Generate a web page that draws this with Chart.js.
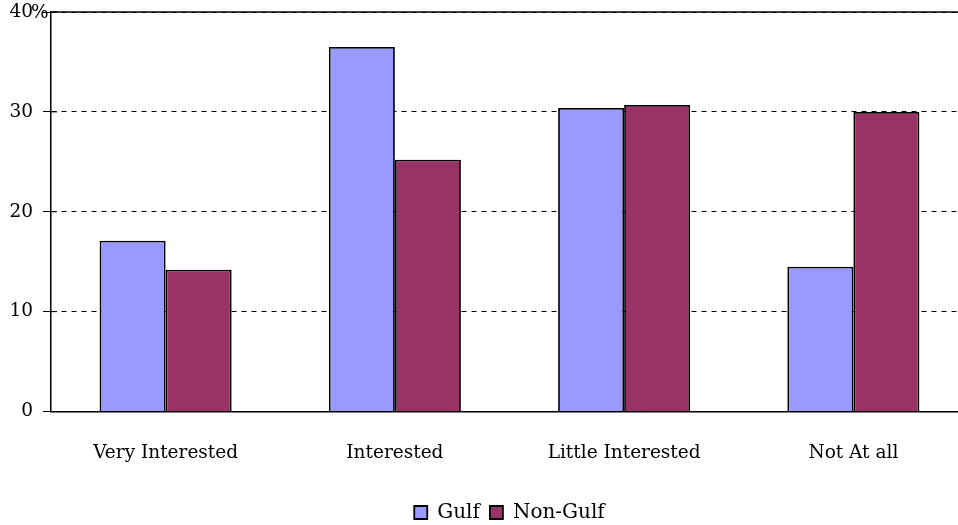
<!DOCTYPE html>
<html>
<head>
<meta charset="utf-8">
<script src="https://cdn.jsdelivr.net/npm/chart.js@4"></script>
<style>
  html, body { margin: 0; padding: 0; background: #fff; overflow: hidden; }
  #wrap { width: 1020px; height: 525px; }
</style>
</head>
<body>
<div id="wrap"><canvas id="chart" width="1020" height="525"></canvas></div>
<script>
// Data
const categories = ['Very Interested', 'Interested', 'Little Interested', 'Not At all'];
const gulf = [17.1, 36.5, 30.4, 14.5];
const nonGulf = [14.2, 25.2, 30.7, 30.0];
const yTicks = [0, 10, 20, 30, 40];

const FONT = "'DejaVu Serif', 'Liberation Serif', serif";
const FSIZE = 18.5;

// solid line along the top of the plot, small ticks crossing the y axis, and the % sign
const frameLines = {
    id: 'frameLines',
    afterDraw(chart) {
        const ctx = chart.ctx;
        const y = chart.scales.y;
        const area = chart.chartArea;
        ctx.save();
        ctx.strokeStyle = '#000';
        ctx.lineWidth = 1.5;
        ctx.beginPath();
        const top = y.getPixelForValue(40);
        ctx.moveTo(area.left, top);
        ctx.lineTo(area.right, top);
        ctx.stroke();
        ctx.lineWidth = 1;
        yTicks.forEach(v => {
            const py = y.getPixelForValue(v);
            ctx.beginPath();
            ctx.moveTo(area.left, py);
            ctx.lineTo(area.left + 6, py);
            ctx.stroke();
        });
        ctx.font = FSIZE + 'px ' + FONT;
        ctx.fillStyle = '#000';
        ctx.textAlign = 'left';
        ctx.textBaseline = 'middle';
        ctx.fillText('%', area.left - 20, top + 1);
        ctx.restore();
    }
};

new Chart(document.getElementById('chart'), {
    type: 'bar',
    data: {
        labels: categories,
        datasets: [{
            label: 'Gulf',
            data: gulf,
            backgroundColor: '#9999FF',
            borderColor: '#000',
            borderWidth: 1.8
        }, {
            label: 'Non-Gulf',
            data: nonGulf,
            backgroundColor: '#993366',
            borderColor: '#000',
            borderWidth: 1.8
        }]
    },
    options: {
        responsive: false,
        animation: false,
        layout: { padding: { top: 12, right: 52, bottom: -7.5, left: 0 } },
        datasets: {
            bar: { categoryPercentage: 0.576, barPercentage: 1.0 }
        },
        scales: {
            x: {
                grid: { display: false, drawTicks: false },
                border: { display: true, color: '#000', width: 1.5 },
                ticks: {
                    color: '#000',
                    padding: 31,
                    font: { family: FONT, size: FSIZE }
                },
                afterFit: scale => { scale.height = 81; }
            },
            y: {
                min: 0,
                max: 40,
                afterBuildTicks: scale => { scale.ticks = yTicks.map(v => ({ value: v })); },
                grid: {
                    color: '#000',
                    lineWidth: 1,
                    tickLength: 8,
                    tickColor: '#000',
                    tickBorderDash: []
                },
                border: { display: true, color: '#000', width: 1.5, dash: [5, 5] },
                ticks: {
                    color: '#000',
                    padding: 10,
                    font: { family: FONT, size: FSIZE }
                },
                afterFit: scale => {
                    scale.width = 51;
                    scale.paddingTop = 0;
                    scale.paddingBottom = 0;
                }
            }
        },
        plugins: {
            legend: {
                position: 'bottom',
                fullSize: false,
                labels: {
                    color: '#000',
                    boxWidth: 13,
                    boxHeight: 13,
                    padding: 10,
                    font: { family: FONT, size: 20 }
                }
            },
            tooltip: { enabled: false }
        }
    },
    plugins: [frameLines]
});
</script>
</body>
</html>
